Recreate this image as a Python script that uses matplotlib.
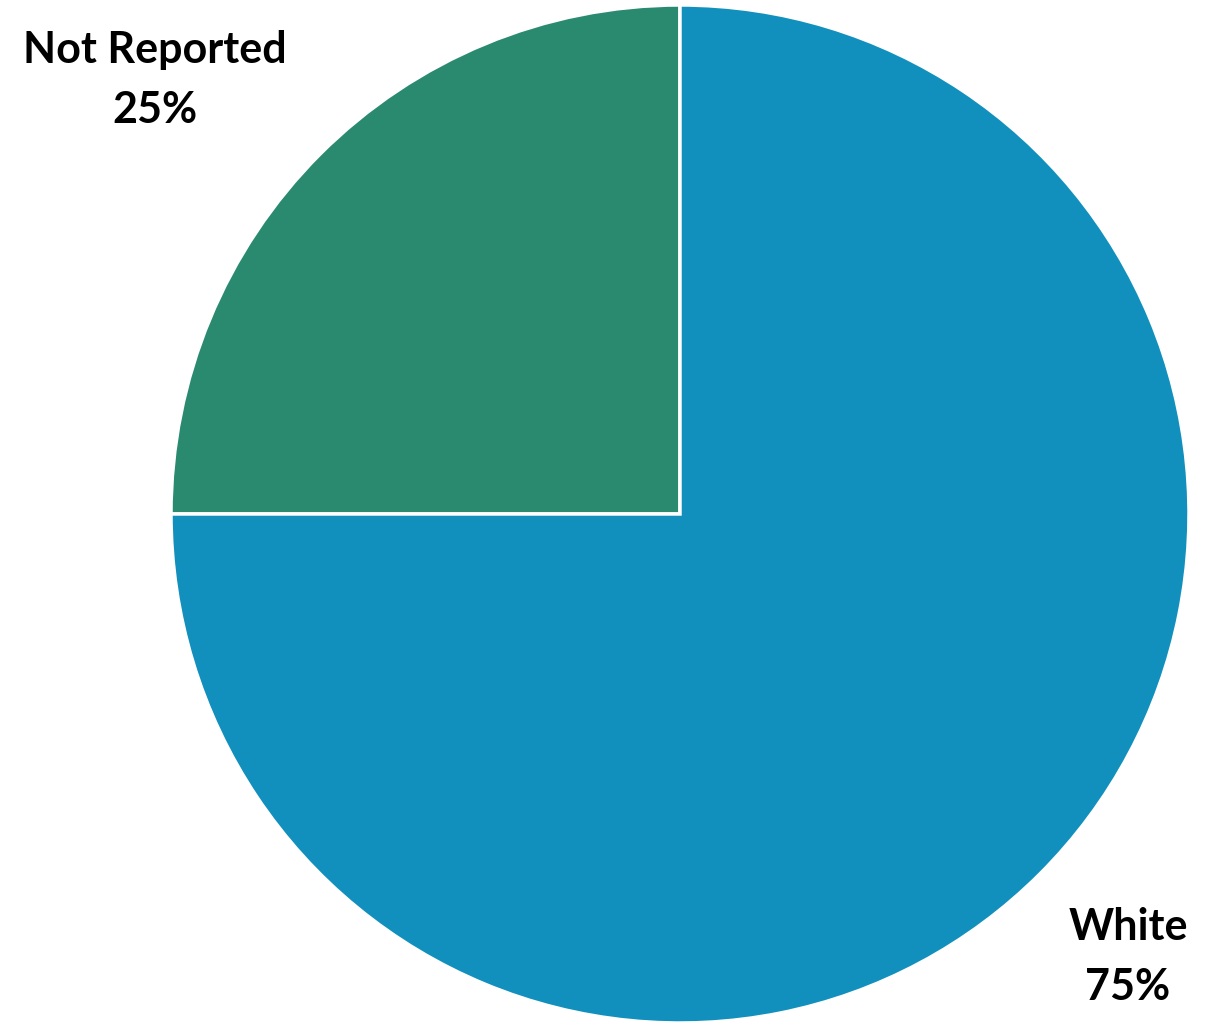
import matplotlib

matplotlib.use("Agg")
import matplotlib.pyplot as plt

# data
categories = ["Not Reported", "White"]
shares = [25, 75]
colors = ["#2A8A70", "#1190BD"]

W, H = 1205, 1023
fig = plt.figure(figsize=(W / 100, H / 100), dpi=100)
ax = fig.add_axes([0, 0, 1, 1])

cx, cy, r = 680, H - 514, 509
ax.pie(
    shares,
    colors=colors,
    startangle=90,
    counterclock=True,
    center=(cx, cy),
    radius=r,
    frame=True,
    wedgeprops=dict(edgecolor="white", linewidth=2.5),
)
ax.set_xlim(0, W)
ax.set_ylim(0, H)
ax.set_aspect("equal")
ax.axis("off")

label_pos = [(155, H - 80), (1128, H - 957)]
for name, val, (x, y) in zip(categories, shares, label_pos):
    ax.text(x, y, f"{name}\n{val}%", ha="center", va="center",
            fontsize=31, fontweight="bold", family=["Lato", "DejaVu Sans"],
            linespacing=1.58)

plt.savefig("out.png", dpi=100)
plt.close(fig)
